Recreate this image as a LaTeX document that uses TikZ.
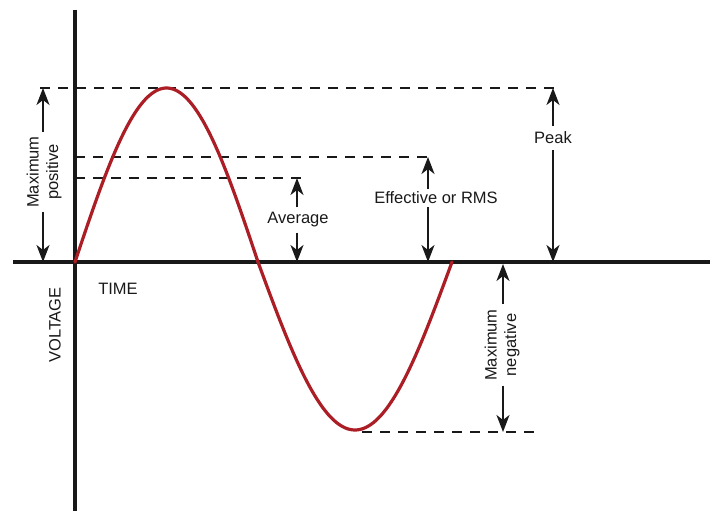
\documentclass[tikz,border=0pt]{standalone}
\usepackage{fontspec}
\setmainfont{Liberation Sans}
\usetikzlibrary{arrows.meta}
\definecolor{wave}{RGB}{172,30,38}
\definecolor{ink}{RGB}{25,25,25}
\begin{document}
\begin{tikzpicture}[x=1pt,y=-1pt,
  axis/.style={line width=3.6pt,draw=ink},
  guide/.style={line width=1.5pt,draw=ink,dash pattern=on 10pt off 8pt},
  dimarrow/.style={line width=1.8pt,draw=ink,-{Stealth[length=17pt,width=13pt,inset=5pt]}},
  lbl/.style={font=\fontsize{16.5}{19.5}\selectfont,text=ink,inner sep=2pt,align=center}]
\useasboundingbox (0,0) rectangle (710,511);
% axes
\coordinate (vtop) at (75,10);
\coordinate (vbot) at (75,511);
\coordinate (hleft) at (13,262);
\coordinate (hright) at (710,262);
\draw[axis] (vtop) -- (vbot);
\draw[axis] (hleft) -- (hright);
% dashed guides
\coordinate (pkL) at (40,88);   \coordinate (pkR) at (560,88);
\coordinate (rmsL) at (75,157); \coordinate (rmsR) at (434,157);
\coordinate (avL) at (75,178);  \coordinate (avR) at (305,178);
\coordinate (ngL) at (362,432); \coordinate (ngR) at (540,432);
\draw[guide] (pkL) -- (pkR);
\draw[guide] (rmsL) -- (rmsR);
\draw[guide] (avL) -- (avR);
\draw[guide] (ngL) -- (ngR);
% sine wave
\draw[line width=3.2pt,draw=wave,line cap=round,domain=0:180,samples=100,smooth]
  plot ({75+\x*1.0167},{262-174*sin(\x)});
\draw[line width=3.2pt,draw=wave,line cap=round,domain=180:360,samples=100,smooth]
  plot ({258+(\x-180)*1.0778},{262-168*sin(\x)});
% Maximum positive
\node[lbl,rotate=90,inner sep=4pt] (mpos) at (44,172) {Maximum\\positive};
\coordinate (mposT) at (43,88); \coordinate (mposB) at (43,262);
\draw[dimarrow] (mpos.east -| mposT) -- (mposT);
\draw[dimarrow] (mpos.west -| mposB) -- (mposB);
% Average
\node[lbl,inner sep=5pt] (avg) at (298,220) {Average};
\coordinate (avgT) at (297,178); \coordinate (avgB) at (297,262);
\draw[dimarrow] (avg.north -| avgT) -- (avgT);
\draw[dimarrow] (avg.south -| avgB) -- (avgB);
% Effective or RMS
\node[lbl,inner sep=3pt] (rms) at (436,198) {Effective or RMS};
\coordinate (rmsT) at (428,157); \coordinate (rmsB) at (428,262);
\draw[dimarrow] (rms.north -| rmsT) -- (rmsT);
\draw[dimarrow] (rms.south -| rmsB) -- (rmsB);
% Peak
\node[lbl,inner sep=6pt] (peak) at (553,138) {Peak};
\coordinate (peakT) at (553,88); \coordinate (peakB) at (553,262);
\draw[dimarrow] (peak.north) -- (peakT);
\draw[dimarrow] (peak.south) -- (peakB);
% Maximum negative
\node[lbl,rotate=90,inner sep=5pt] (mneg) at (502,345) {Maximum\\negative};
\coordinate (mnegT) at (503,264); \coordinate (mnegB) at (503,432);
\draw[dimarrow] (mneg.east -| mnegT) -- (mnegT);
\draw[dimarrow] (mneg.west -| mnegB) -- (mnegB);
% axis labels
\node[lbl] (time) at (118,289) {TIME};
\node[lbl,rotate=90] (volt) at (55,325) {VOLTAGE};
\end{tikzpicture}
\end{document}
